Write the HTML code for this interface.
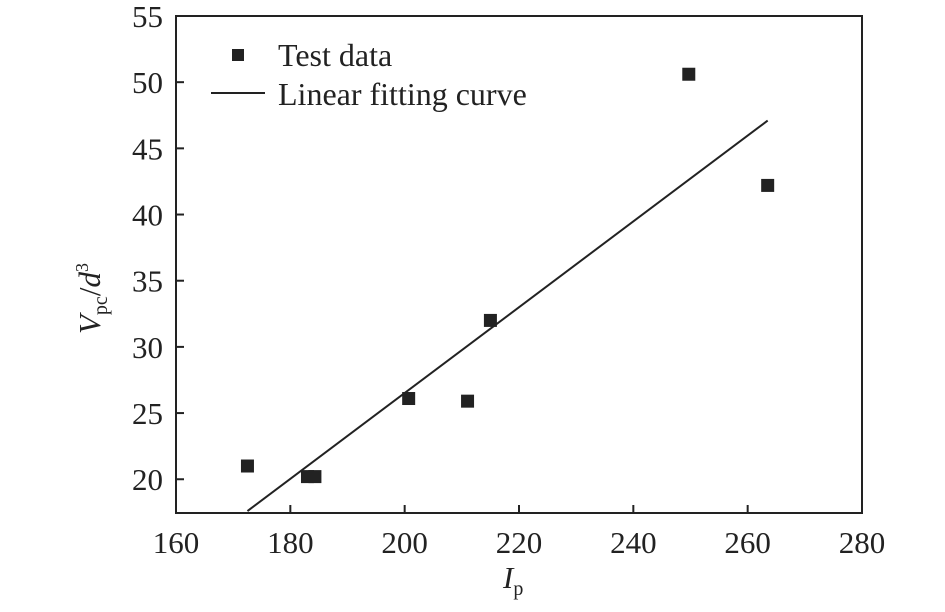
<!DOCTYPE html>
<html><head><meta charset="utf-8"><style>
html,body{margin:0;padding:0;background:#fff;}
svg{display:block;font-family:"Liberation Serif",serif;}
</style></head><body>
<svg id="chart" width="945" height="612">
<g id="axes"></g><g id="marks"></g>
<g>
<rect x="232" y="49" width="12" height="12" fill="#222"/>
<text x="278" y="66" font-size="32" fill="#222">Test data</text>
<line x1="211" y1="93" x2="265" y2="93" stroke="#222" stroke-width="2"/>
<text x="278" y="105" font-size="32" fill="#222">Linear fitting curve</text>
</g>
<text x="503" y="588" font-size="31" font-style="italic" fill="#222">I<tspan font-size="20" font-style="normal" dy="7">p</tspan></text>
<text transform="translate(100,334) rotate(-90)" font-size="31" fill="#222"><tspan font-style="italic">V</tspan><tspan font-size="20" dy="7">pc</tspan><tspan dy="-7">/</tspan><tspan font-style="italic">d</tspan><tspan font-size="18" dy="-12">3</tspan></text>
</svg>
<script>
const xTicks=[160,180,200,220,240,260,280];
const yTicks=[20,25,30,35,40,45,50,55];
const dataX=[172.5,183,184.3,200.7,211,215,249.7,263.5];
const dataY=[21.0,20.2,20.2,26.1,25.9,32.0,50.6,42.2];
const fitX=[172.5,263.5];
const fitY=[17.6,47.1];
const L=176,R=862,T=16,B=513,xmin=160,xmax=280,ymin=17.45,ymax=55;
const sx=v=>L+(v-xmin)/(xmax-xmin)*(R-L);
const sy=v=>B-(v-ymin)/(ymax-ymin)*(B-T);
const NS='http://www.w3.org/2000/svg';
const axes=document.getElementById('axes'),marks=document.getElementById('marks');
function mk(tag,attrs,parent){const e=document.createElementNS(NS,tag);for(const k in attrs)e.setAttribute(k,attrs[k]);parent.appendChild(e);return e;}
const frame=mk('rect',{x:L,y:T,width:R-L,height:B-T,fill:'none',stroke:'#222','stroke-width':2},axes);


xTicks.forEach(v=>{
 const t=mk('line',{x1:sx(v),x2:sx(v),y1:B,y2:B-8,stroke:'#222','stroke-width':2},axes);
 
 
 const l=mk('text',{x:sx(v),y:B+40,'font-size':31,'text-anchor':'middle',fill:'#222'},axes);
 l.textContent=v;
 
 
});
yTicks.forEach(v=>{
 const t=mk('line',{x1:L,x2:L+8,y1:sy(v),y2:sy(v),stroke:'#222','stroke-width':2},axes);
 
 
 const l=mk('text',{x:L-13,y:sy(v)+11,'font-size':31,'text-anchor':'end',fill:'#222'},axes);
 l.textContent=v;
 
 
});
const fl=mk('line',{x1:sx(fitX[0]),y1:sy(fitY[0]),x2:sx(fitX[1]),y2:sy(fitY[1]),stroke:'#222','stroke-width':2},marks);


dataX.forEach((x,i)=>{
 const p=mk('rect',{x:sx(x)-6.5,y:sy(dataY[i])-6.5,width:13,height:13,fill:'#222'},marks);
 
 
});
</script>
</body></html>
